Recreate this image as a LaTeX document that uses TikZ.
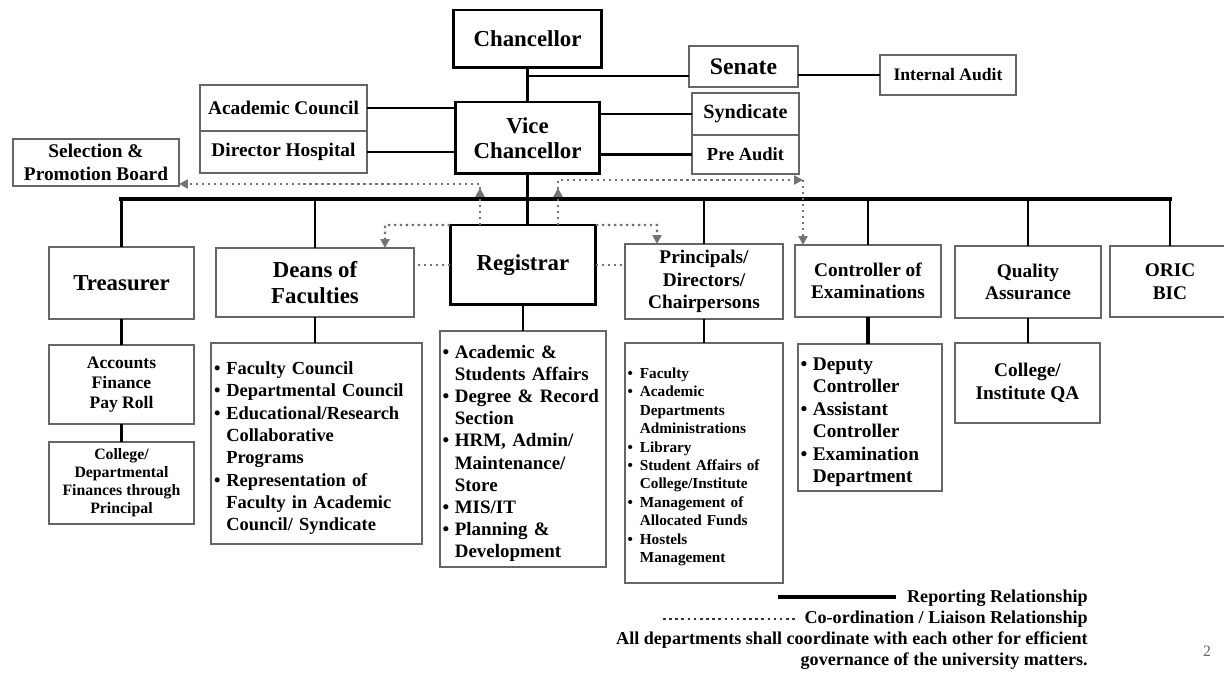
\documentclass[tikz,border=0pt]{standalone}
\usepackage{fontspec}
\setmainfont{Liberation Serif}
\usetikzlibrary{arrows.meta}
\newcommand{\fs}[2]{\fontsize{#1}{#2}\selectfont}
\newcommand{\itm}[1]{\par\noindent\makebox[7pt][l]{\textbullet}#1}
\newcommand{\cnt}[1]{\par\noindent\hspace*{7pt}#1}

\begin{document}
\begin{tikzpicture}[x=0.02cm,y=-0.02cm]
\tikzstyle{box}=[draw=black!60, line width=0.8pt, fill=white, inner sep=1pt,
	outer sep=0pt, align=center, font={\bfseries\fs{11}{12.8}}]
\tikzstyle{bigbox}=[box, font={\bfseries\fs{13}{14.5}}]
\tikzstyle{headbox}=[bigbox, draw=black, line width=1.7pt]
\tikzstyle{listbox}=[box, align=left]
\tikzstyle{report}=[line width=1.4pt]
\tikzstyle{bar}=[line width=2.6pt, line cap=rect]
\tikzstyle{liaison}=[draw=black!55, line width=1.4pt, dotted]
\tikzstyle{liaisonarrow}=[liaison, -{Triangle[length=5pt,width=5pt]}]

\useasboundingbox (0,0) rectangle (1224,675);

% top level
\node[headbox, minimum width=2.96cm, minimum height=1.16cm] (chan) at (527.5,39) {Chancellor};
\node[headbox, minimum width=2.90cm, minimum height=1.44cm] (vc) at (527.5,138) {Vice\\Chancellor};
\node[bigbox, minimum width=2.18cm, minimum height=0.82cm, font={\bfseries\fs{13.5}{15}}] (senate) at (743.5,66.5) {Senate};
\node[box, minimum width=2.72cm, minimum height=0.80cm, font={\bfseries\fs{10}{12}}] (iaudit) at (948,75) {Internal Audit};
\node[box, minimum width=3.34cm, minimum height=0.92cm] (acad) at (283.5,108) {Academic Council};
\node[box, minimum width=3.34cm, minimum height=0.84cm] (dirhosp) at (283.5,152) {Director Hospital};
\node[box, minimum width=2.14cm, minimum height=0.84cm, font={\bfseries\fs{11.5}{13}}] (synd) at (745.5,114) {Syndicate};
\node[box, minimum width=2.14cm, minimum height=0.78cm, font={\bfseries\fs{10.5}{12}}] (preaudit) at (745.5,154.5) {Pre Audit};
\node[box, minimum width=3.32cm, minimum height=0.94cm] (selprom) at (96,162.5) {Selection \&\\Promotion Board};

% second level
\node[bigbox, minimum width=2.90cm, minimum height=1.44cm] (treas) at (121.5,283) {Treasurer};
\node[bigbox, minimum width=3.96cm, minimum height=1.38cm] (deans) at (315,282.5) {Deans of\\Faculties};
\node[headbox, minimum width=2.92cm, minimum height=1.60cm] (reg) at (523,265) {Registrar};
\node[box, minimum width=3.16cm, minimum height=1.50cm] (princ) at (704,281.5) {Principals/\\Directors/\\Chairpersons};
\node[box, minimum width=2.92cm, minimum height=1.44cm] (ctrl) at (868,281) {Controller of\\Examinations};
\node[box, minimum width=2.92cm, minimum height=1.44cm] (qa) at (1028,282) {Quality\\Assurance};
\node[box, minimum width=2.40cm, minimum height=1.42cm] (oric) at (1170,281.5) {ORIC\\BIC};

% third level
\node[box, minimum width=2.90cm, minimum height=1.58cm, font={\bfseries\fs{10}{11.4}}] (accts) at (121.5,384.5) {Accounts\\Finance\\Pay Roll};
\node[box, minimum width=2.90cm, minimum height=1.64cm, font={\bfseries\fs{9}{10.3}}] (collfin) at (121.5,483) {College/\\Departmental\\Finances through\\Principal};
\node[listbox, minimum width=4.22cm, minimum height=4.02cm, text width=4.1cm, font={\bfseries\fs{10.5}{12.7}}] (deanslist) at (316.5,443.5) {%
\itm{Faculty Council}
\itm{Departmental Council}
\itm{Educational/Research}\cnt{Collaborative}\cnt{Programs}
\itm{Representation of}\cnt{Faculty in Academic}\cnt{Council/ Syndicate}\par};
\node[listbox, minimum width=3.32cm, minimum height=4.72cm, text width=3.22cm, font={\bfseries\fs{10.8}{12.6}}] (reglist) at (523,449) {%
\itm{Academic \&}\cnt{Students Affairs}
\itm{Degree \& Record}\cnt{Section}
\itm{HRM, Admin/}\cnt{Maintenance/}\cnt{Store}
\itm{MIS/IT}
\itm{Planning \&}\cnt{Development}\par};
\node[listbox, minimum width=3.16cm, minimum height=4.80cm, text width=3.06cm, font={\bfseries\fs{8.7}{10.5}}] (princlist) at (704,463) {%
\itm{Faculty}
\itm{Academic}\cnt{Departments}\cnt{Administrations}
\itm{Library}
\itm{Student Affairs of}\cnt{College/Institute}
\itm{Management of}\cnt{Allocated Funds}
\itm{Hostels}\cnt{Management}\par};
\node[listbox, minimum width=2.88cm, minimum height=2.94cm, text width=2.78cm, font={\bfseries\fs{11}{12.8}}] (ctrllist) at (870,417.5) {%
\itm{Deputy}\cnt{Controller}
\itm{Assistant}\cnt{Controller}
\itm{Examination}\cnt{Department}\par};
\node[box, minimum width=2.90cm, minimum height=1.60cm] (qalist) at (1027.5,383) {College/\\Institute QA};

% reporting lines
\coordinate (stem) at (527.5,76);
\coordinate (barL) at (121.5,199);
\coordinate (barR) at (1170,199);
\draw[report] (chan.south) -- (vc.north);
\draw[report] (stem) -- (stem -| senate.west);
\draw[report] (iaudit.west) -- (iaudit.west -| senate.east);
\draw[report] (acad.east) -- (acad.east -| vc.west);
\draw[report] (dirhosp.east) -- (dirhosp.east -| vc.west);
\draw[report] (synd.west) -- (synd.west -| vc.east);
\draw[report] (preaudit.west) -- (preaudit.west -| vc.east);
\draw[report] (vc.south) -- (vc.south |- reg.north);
\draw[bar] (barL) -- (barR);
\foreach \n in {treas,deans,princ,ctrl,qa,oric}
	\draw[report] (\n.north) -- (\n.north |- barL);
\draw[report] (treas.south) -- (accts.north);
\draw[report] (accts.south) -- (collfin.north);
\draw[report] (deans.south) -- (deans.south |- deanslist.north);
\draw[report] (reg.south) -- (reg.south |- reglist.north);
\draw[report] (princ.south) -- (princ.south |- princlist.north);
\draw[report, line width=2pt] (ctrl.south) -- (ctrl.south |- ctrllist.north);
\draw[report] (qa.south) -- (qa.south |- qalist.north);

% liaison lines
\coordinate (dd) at (385,225);
\coordinate (dp) at (657,225);
\coordinate (dl) at (480,225);
\coordinate (dlt) at (480,184);
\coordinate (dr) at (558,225);
\coordinate (drt) at (558,180);
\coordinate (dc) at (803,180);
\draw[liaisonarrow] (reg.north west) -- (dd) -- (dd |- deans.north);
\draw[liaisonarrow] (reg.north east) -- (dp) -- (dp |- princ.north);
\draw[liaisonarrow] (dl) -- ++(0,-37);
\draw[liaisonarrow] (dl) -- (dlt) -- (dlt -| selprom.east);
\draw[liaisonarrow] (dr) -- ++(0,-37);
\draw[liaisonarrow] (dr) -- (drt) -- (dc);
\draw[liaisonarrow] (dc) -- (dc |- ctrl.north);
\draw[liaison] (reg.west) -- (reg.west -| deans.east);
\draw[liaison] (reg.east) -- (reg.east -| princ.west);

% legend
\node[anchor=east, inner sep=0pt, font={\bfseries\fs{10.3}{12}}] (reptxt) at (1088,598) {Reporting Relationship};
\node[anchor=east, inner sep=0pt, font={\bfseries\fs{10.3}{12}}] (cotxt) at (1088,619) {Co-ordination / Liaison Relationship};
\node[anchor=east, inner sep=0pt, align=right, font={\bfseries\fs{10.3}{11.9}}] (note) at (1088,651) {All departments shall coordinate with each other for efficient\\governance of the university matters.};
\node[inner sep=0pt, text=black!60, font={\fs{9}{10}}] (pagenum) at (1207,651) {2};
\coordinate (repA) at (778,597);
\coordinate (coA) at (663,619);
\draw[line width=2.4pt, shorten >=6pt] (repA) -- (repA -| reptxt.west);
\draw[line width=1.5pt, black!80, dash pattern=on 1.5pt off 2pt, shorten >=4pt] (coA) -- (coA -| cotxt.west);
\end{tikzpicture}
\end{document}
